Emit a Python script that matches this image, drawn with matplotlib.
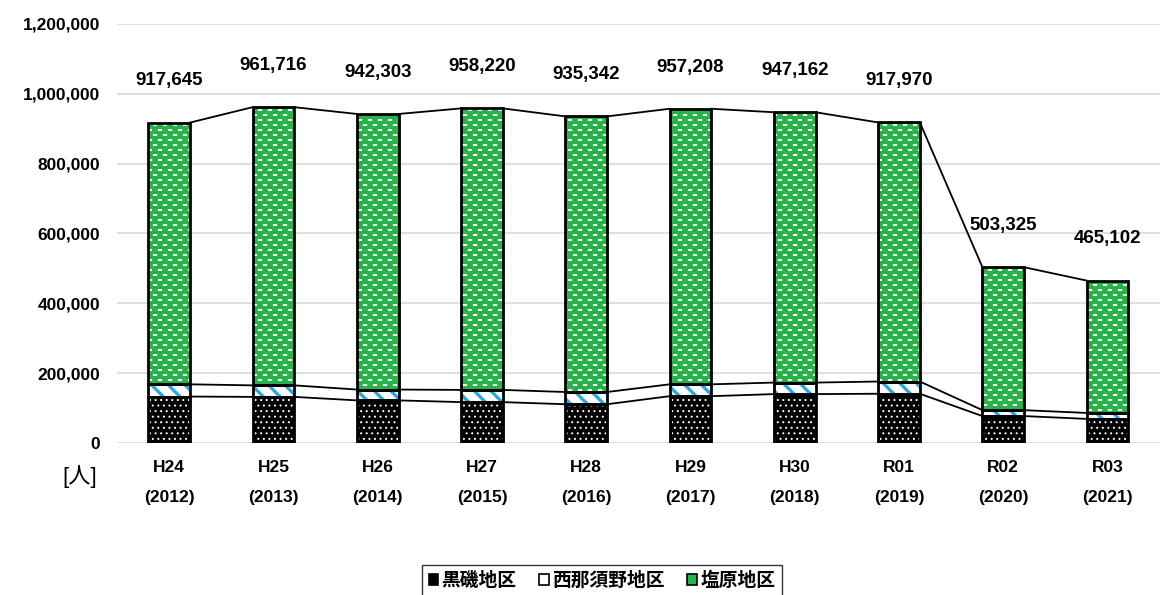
import numpy as np
import matplotlib.pyplot as plt
import matplotlib.patches as mpatches
from matplotlib import hatch as mhatch
from matplotlib.path import Path
from matplotlib.ticker import FuncFormatter

plt.rcParams['font.family'] = ['Liberation Sans', 'Noto Sans CJK JP', 'DejaVu Sans']

# 年度別の地区別入込数 [人]
years_jp = ['H24', 'H25', 'H26', 'H27', 'H28', 'H29', 'H30', 'R01', 'R02', 'R03']
years_ad = ['2012', '2013', '2014', '2015', '2016', '2017', '2018', '2019', '2020', '2021']
kuroiso = [133000, 132000, 122000, 117000, 111000, 134000, 140000, 141000, 77000, 69000]
nishinasuno = [35000, 33000, 31000, 35000, 35000, 34000, 33000, 35000, 17000, 17000]
shiobara = [749645, 796716, 789303, 806220, 789342, 789208, 774162, 741970, 409325, 379102]
series_names = ['黒磯地区', '西那須野地区', '塩原地区']

GREEN = '#27B24A'
BLUE = '#2AA9E0'


# 塩原地区用の「短い横線」模様（'*' の星模様と置き換える）
class Dashes(mhatch.HatchPatternBase):
    def __init__(self, hatch, density):
        self.nc = hatch.count('*') * 10
        self.nr = self.nc * 2
        if self.nc == 0:
            self.num_vertices = 0
        else:
            n_shapes = (self.nr // 2 + 1) * (self.nc + 1) + (self.nr // 2) * self.nc
            self.num_vertices = n_shapes * 5

    def set_vertices_and_codes(self, vertices, codes):
        hw, hh = 0.017, 0.0055
        rect = np.array([[-hw, -hh], [hw, -hh], [hw, hh], [-hw, hh], [-hw, -hh]])
        rc = [Path.MOVETO, Path.LINETO, Path.LINETO, Path.LINETO, Path.CLOSEPOLY]
        dx = 1.0 / self.nc
        cur = 0
        for j in range(self.nr + 1):
            y = j / self.nr
            if j % 2 == 0:
                xs = np.arange(self.nc + 1) * dx
            else:
                xs = np.arange(self.nc) * dx + dx / 2
            for xc in xs:
                vertices[cur:cur + 5] = rect + [xc, y]
                codes[cur:cur + 5] = rc
                cur += 5


mhatch._hatch_types = [Dashes if c is mhatch.Stars else c for c in mhatch._hatch_types]

fig = plt.figure(figsize=(11.62, 5.95), dpi=100)
ax = fig.add_axes([0.1007, 0.2555, 0.8973, 0.7042])

x = np.arange(len(years_jp))
w = 0.4
k = np.array(kuroiso)
n = np.array(nishinasuno)
s = np.array(shiobara)
total = k + n + s

# 模様の塗り（ハッチ色 = edgecolor）
with plt.rc_context({'hatch.linewidth': 0.7}):
    ax.bar(x, k, w, color='black', edgecolor='white', hatch='...', linewidth=0, zorder=2)
with plt.rc_context({'hatch.linewidth': 2.4}):
    ax.bar(x, n, w, bottom=k, color='white', edgecolor=BLUE, hatch='\\\\', linewidth=0, zorder=2)
with plt.rc_context({'hatch.linewidth': 0.6}):
    ax.bar(x, s, w, bottom=k + n, color=GREEN, edgecolor='white', hatch='*', linewidth=0, zorder=2)

# 黒い枠線
for vals, bottom in [(k, 0), (n, k), (s, k + n)]:
    ax.bar(x, vals, w, bottom=bottom, fill=False, edgecolor='black', linewidth=2, zorder=3)

# 棒の上端を結ぶ線
for level in [k, k + n, total]:
    for i in range(len(x) - 1):
        ax.plot([x[i] + w / 2, x[i + 1] - w / 2], [level[i], level[i + 1]],
                color='black', linewidth=1.3, zorder=3)

for i, t in enumerate(total):
    ax.annotate(f'{t:,}', (x[i], t), xytext=(0, 30), textcoords='offset points',
                ha='center', va='center', fontsize=13.5, fontweight='bold')

ax.set_ylim(0, 1200000)
ax.set_xlim(-0.5, len(x) - 0.5)
ax.set_yticks(np.arange(0, 1200001, 200000))
ax.yaxis.set_major_formatter(FuncFormatter(lambda v, p: f'{int(v):,}'))
ax.set_xticks(x)
ax.set_xticklabels([f'{a}\n({b})' for a, b in zip(years_jp, years_ad)],
                   fontsize=12.5, fontweight='bold', linespacing=2.3)
for lab in ax.get_yticklabels():
    lab.set_fontweight('bold')
    lab.set_fontsize(12.5)
ax.tick_params(length=0)
ax.tick_params(axis='y', pad=12)
ax.tick_params(axis='x', pad=12)
ax.grid(axis='y', color='#D9D9D9', linewidth=1.2, zorder=0)
ax.set_axisbelow(True)
for sp in ax.spines.values():
    sp.set_visible(False)

fig.text(80 / 1162, 1 - 477 / 595, '[人]', ha='center', va='center', fontsize=16)

handles = [
    mpatches.Patch(facecolor='black', edgecolor='black', linewidth=1.2),
    mpatches.Patch(facecolor='white', edgecolor='black', linewidth=1.2),
    mpatches.Patch(facecolor=GREEN, edgecolor='black', linewidth=1.2),
]
leg = fig.legend(handles, series_names, loc='upper center', bbox_to_anchor=(602 / 1162, 1 - 565 / 595),
                 ncol=3, frameon=True, fancybox=False, edgecolor='black',
                 prop={'weight': 'bold', 'size': 13.5}, handlelength=0.5, handleheight=0.5,
                 handletextpad=0.2, columnspacing=1.2, borderpad=0.35, borderaxespad=0)
leg.get_frame().set_linewidth(1.0)

fig.savefig('out.png', dpi=100)
